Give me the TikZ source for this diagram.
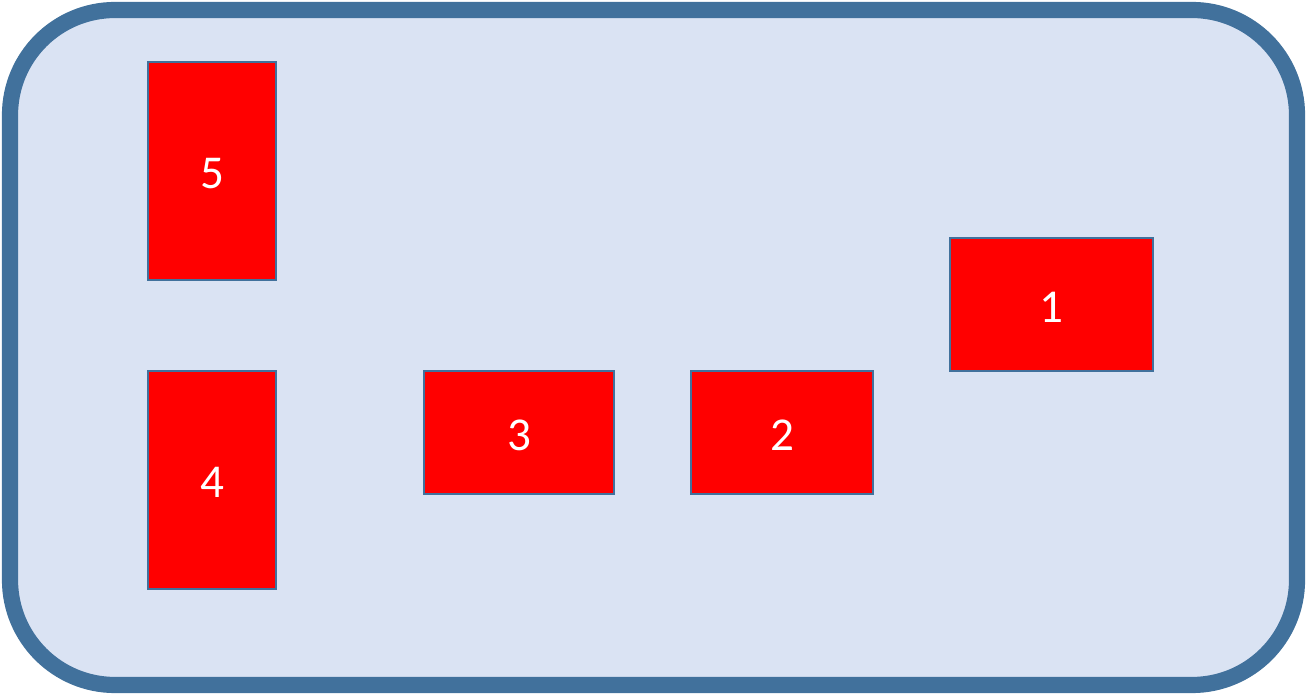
\documentclass[tikz,border=0pt]{standalone}
\usepackage{fontspec}
\setmainfont{Carlito}
\definecolor{frameblue}{HTML}{41719C}
\definecolor{panelfill}{HTML}{DAE3F3}
\definecolor{boxred}{HTML}{FF0000}

\begin{document}
\begin{tikzpicture}[x=0.01cm, y=-0.01cm,
    slot/.style={draw=frameblue, line width=0.6pt, fill=boxred, text=white,
        inner sep=0pt, text height=10.2pt, text depth=0pt,
        font=\fontsize{13.4}{16}\selectfont}]

    \useasboundingbox (0,0) rectangle (1307,695);

    % ── Rounded panel ────────────────────────────────────────────────────────
    \draw[draw=frameblue, fill=panelfill, line width=4.6pt, rounded corners=1.05cm]
        (10,10) rectangle (1297,685);

    % ── Boxes ────────────────────────────────────────────────────────────────
    \node[slot, minimum width=1.28cm, minimum height=2.18cm] (b5) at (212,171) {5};
    \node[slot, minimum width=1.28cm, minimum height=2.18cm] (b4) at (212,480) {4};
    \node[slot, minimum width=1.90cm, minimum height=1.23cm] (b3) at (519,432.5) {3};
    \node[slot, minimum width=1.82cm, minimum height=1.23cm] (b2) at (782,432.5) {2};
    \node[slot, minimum width=2.03cm, minimum height=1.33cm] (b1) at (1051.5,304.5) {1};

\end{tikzpicture}
\end{document}
